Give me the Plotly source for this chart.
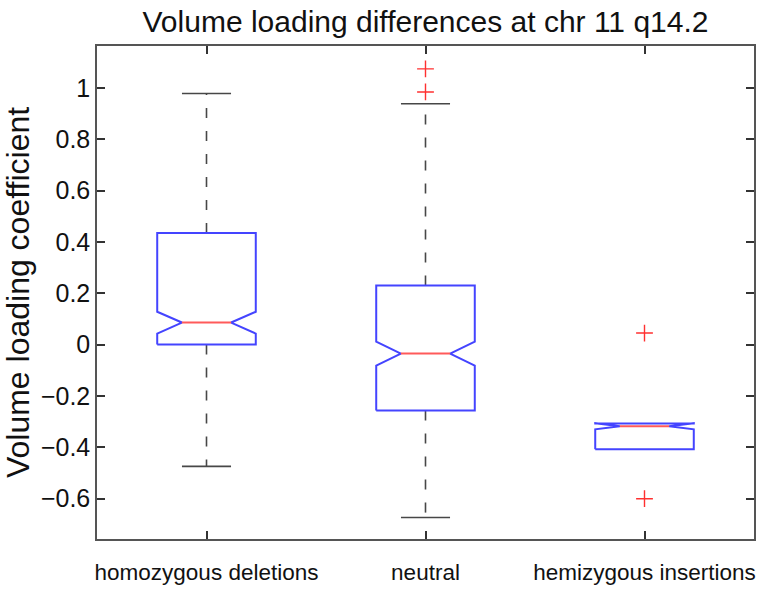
import plotly.graph_objects as go

categories = ["homozygous deletions", "neutral", "hemizygous insertions"]
q1 = [0.0, -0.257, -0.407]
medians = [0.086, -0.035, -0.318]
q3 = [0.435, 0.230, -0.307]
notch_lo = [0.043, -0.082, -0.330]
notch_hi = [0.128, 0.012, -0.306]
whisker_lo = [-0.474, -0.673, -0.407]
whisker_hi = [0.978, 0.938, -0.307]
outliers = [[], [1.074, 0.984], [0.045, -0.600]]

y_ticks = [-0.6, -0.4, -0.2, 0, 0.2, 0.4, 0.6, 0.8, 1]

HW = 0.225      # box half-width
CW = 0.112      # cap half-width
BLUE = "#4444ff"
RED = "#ff5a5a"
DARK = "#474747"
FONT = "Liberation Sans, Arial, sans-serif"

positions = list(range(1, len(categories) + 1))

fig = go.Figure()

# whiskers (dashed) and caps; skipped when the whisker collapses onto the box
wx, wy = [], []
cx, cy = [], []
for p, a, b, lo, hi in zip(positions, q1, q3, whisker_lo, whisker_hi):
    if hi > b:
        wx += [p, p, None]
        wy += [b, hi, None]
        cx += [p - CW, p + CW, None]
        cy += [hi, hi, None]
    if lo < a:
        wx += [p, p, None]
        wy += [a, lo, None]
        cx += [p - CW, p + CW, None]
        cy += [lo, lo, None]
fig.add_trace(go.Scatter(x=wx, y=wy, mode="lines",
                         line=dict(color=DARK, width=1.6, dash="10px,13px"),
                         hoverinfo="skip", showlegend=False))
fig.add_trace(go.Scatter(x=cx, y=cy, mode="lines",
                         line=dict(color=DARK, width=1.6),
                         hoverinfo="skip", showlegend=False))

# notched boxes
bx, by = [], []
for p, a, m, b, nl, nh in zip(positions, q1, medians, q3, notch_lo, notch_hi):
    bx += [p - HW, p - HW, p - HW / 2, p - HW, p - HW, p + HW, p + HW, p + HW / 2, p + HW, p + HW, p - HW, None]
    by += [a, nl, m, nh, b, b, nh, m, nl, a, a, None]
fig.add_trace(go.Scatter(x=bx, y=by, mode="lines",
                         line=dict(color=BLUE, width=2),
                         hoverinfo="skip", showlegend=False))

# medians
mx, my = [], []
for p, m in zip(positions, medians):
    mx += [p - HW / 2, p + HW / 2, None]
    my += [m, m, None]
fig.add_trace(go.Scatter(x=mx, y=my, mode="lines",
                         line=dict(color=RED, width=2),
                         hoverinfo="skip", showlegend=False))

# outliers
ox, oy = [], []
for p, vals in zip(positions, outliers):
    for v in vals:
        ox.append(p)
        oy.append(v)
fig.add_trace(go.Scatter(x=ox, y=oy, mode="markers",
                         marker=dict(symbol="cross-thin", size=12,
                                     line=dict(color="#ff3030", width=1.4)),
                         hoverinfo="skip", showlegend=False))

fig.update_layout(
    width=764, height=592,
    margin=dict(l=97, r=10, t=46, b=53),
    paper_bgcolor="white", plot_bgcolor="white",
    font=dict(family=FONT, color="#111111"),
    title=dict(text="Volume loading differences at chr 11 q14.2",
               x=0.5, xref="paper", xanchor="center",
               y=0.963, yref="container", yanchor="middle",
               font=dict(size=30, family=FONT, color="#111111")),
    xaxis=dict(range=[0.5, 3.5], tickvals=positions, ticktext=categories,
               ticks="inside", ticklen=8, tickcolor="#333333", tickwidth=1.5,
               showline=True, linecolor="#555555", linewidth=1.5, mirror="ticks",
               showgrid=False, zeroline=False, ticklabelstandoff=12,
               automargin=False,
               tickfont=dict(size=22.5, family=FONT, color="#111111")),
    yaxis=dict(range=[-0.757, 1.163], tickvals=y_ticks,
               ticktext=[("%g" % v).replace("-", "\u2212") for v in y_ticks],
               ticks="inside", ticklen=8, tickcolor="#333333", tickwidth=1.5,
               showline=True, linecolor="#555555", linewidth=1.5, mirror="ticks",
               showgrid=False, zeroline=False, ticklabelstandoff=0,
               automargin=False,
               tickfont=dict(size=25, family=FONT, color="#111111"),
               title=dict(text="Volume loading coefficient", standoff=10,
                          font=dict(size=32, family=FONT, color="#111111"))),
)

fig.write_html("out.html", config={"displayModeBar": False},
               post_script="document.body.style.margin='0';document.body.style.overflow='hidden';")
